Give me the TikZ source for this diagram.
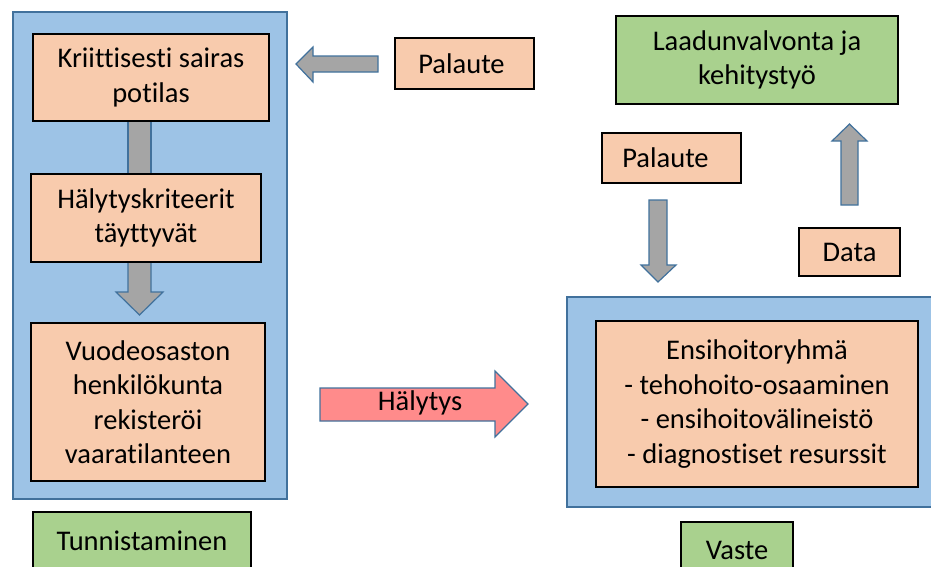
\documentclass[tikz,border=0pt]{standalone}
\usepackage{fontspec}
\setmainfont[Ligatures={NoCommon}]{Carlito}
\newcommand{\boxfont}{\fontsize{28.5}{34.5}\selectfont}
\begin{document}
\begin{tikzpicture}[x=1pt,y=-1pt,
  panel/.style={draw=panelline,fill=panelfill,line width=1.3pt,inner sep=0pt},
  stepbox/.style={draw=black,fill=stepfill,line width=1.2pt,inner sep=0pt,align=center,
    font=\boxfont},
  greenbox/.style={draw=black,fill=greenfill,line width=1.2pt,inner sep=0pt,align=center,
    font=\boxfont},
  blockarrow/.style={draw=panelline,fill=arrowgray,line width=1.2pt,line join=miter},
  alertarrow/.style={draw=panelline,fill=alertfill,line width=1.2pt,line join=miter},
]
\definecolor{panelfill}{HTML}{9DC3E6}
\definecolor{panelline}{HTML}{41719C}
\definecolor{stepfill}{HTML}{F8CBAD}
\definecolor{greenfill}{HTML}{A9D18E}
\definecolor{arrowgray}{HTML}{A5A5A5}
\definecolor{alertfill}{HTML}{FF8B8B}
\useasboundingbox (0,0) rectangle (931,566);
\clip (0,0) rectangle (931,566);

% panels
\node[panel,minimum width=274pt,minimum height=487pt] (leftpanel) at (150,255.5) {};
\node[panel,minimum width=368pt,minimum height=210pt] (rightpanel) at (751,402) {};

% block arrows
\draw[blockarrow] (128,120) rectangle (151,180);
\draw[blockarrow] (128,262) -- (151,262) -- (151,292) -- (163,292) -- (139.5,315)
  -- (116,292) -- (128,292) -- cycle;
\draw[blockarrow] (378,56) -- (313,56) -- (313,47) -- (296,64) -- (313,82) -- (313,72)
  -- (378,72) -- cycle;
\draw[blockarrow] (649,200) -- (667,200) -- (667,265) -- (676,265) -- (658,282)
  -- (641,265) -- (649,265) -- cycle;
\draw[blockarrow] (841,205) -- (858,205) -- (858,141) -- (867,141) -- (849.5,124)
  -- (832,141) -- (841,141) -- cycle;
\draw[alertarrow] (320,388) -- (495,388) -- (495,371) -- (528,404) -- (495,437)
  -- (495,421) -- (320,421) -- cycle;
\node[font=\boxfont] (alert) at (420,403) {Hälytys};

% left column
\node[stepbox,minimum width=236pt,minimum height=87pt] (patient) at (151,77.5)
  {Kriittisesti sairas\\potilas};
\node[stepbox,minimum width=230pt,minimum height=88pt] (criteria) at (146,218)
  {Hälytyskriteerit\\täyttyvät};
\node[stepbox,minimum width=234pt,minimum height=158pt] (ward) at (148,402)
  {Vuodeosaston\\henkilökunta\\rekisteröi\\vaaratilanteen};
\node[greenbox,minimum width=218pt,minimum height=58pt] (detect) at (142,541)
  {Tunnistaminen};

% feedback and quality
\node[stepbox,minimum width=139pt,minimum height=51pt] (feedbackA) at (464.5,63.5) {Palaute\hspace{6pt}};
\node[greenbox,minimum width=282pt,minimum height=88pt] (quality) at (757,60)
  {Laadunvalvonta ja\\kehitystyö};
\node[stepbox,minimum width=139pt,minimum height=50pt] (feedbackB) at (671.5,158) {Palaute\hspace{12pt}};
\node[stepbox,minimum width=101pt,minimum height=48pt] (data) at (849.5,252) {Data};

% response
\node[stepbox,minimum width=322pt,minimum height=166pt] (team) at (757,404)
  {Ensihoitoryhmä\\- tehohoito-osaaminen\\- ensihoitovälineistö\\- diagnostiset resurssit};
\node[greenbox,minimum width=112pt,minimum height=56pt] (response) at (737,550) {Vaste};
\end{tikzpicture}
\end{document}
